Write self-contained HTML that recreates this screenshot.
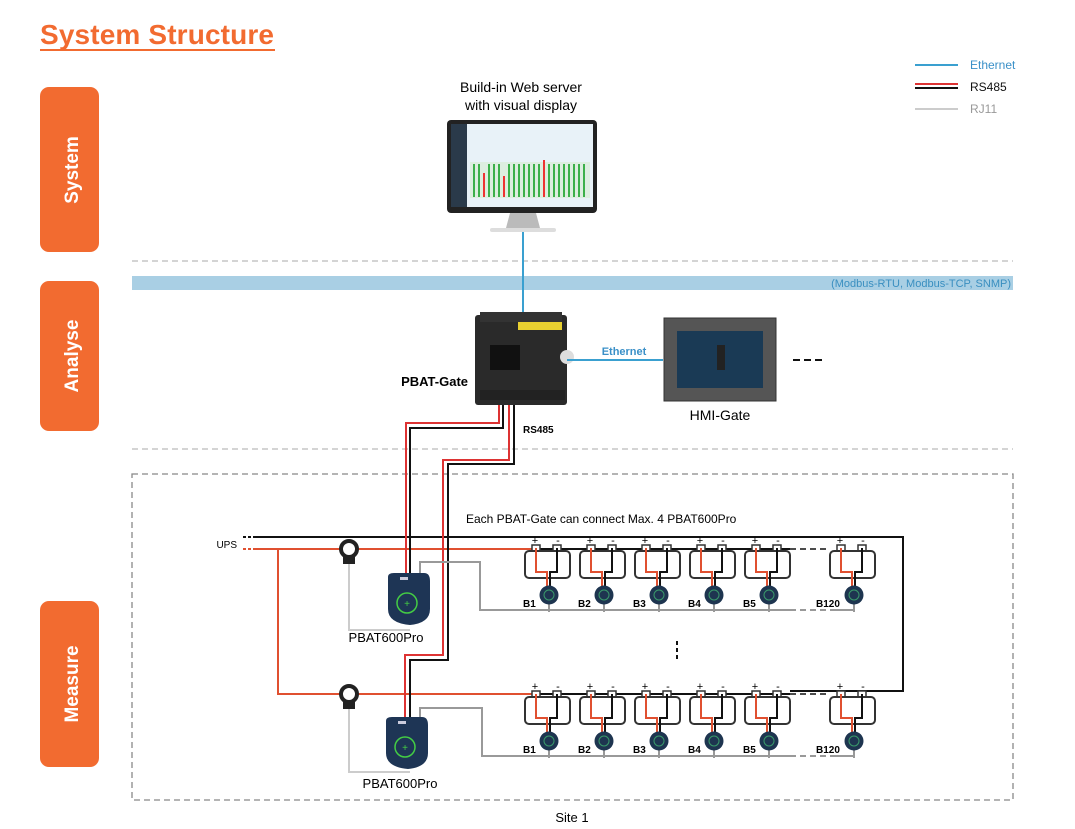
<!DOCTYPE html>
<html><head><meta charset="utf-8"><style>
html,body{margin:0;padding:0;background:#fff;}
svg{display:block;font-family:"Liberation Sans",Arial,sans-serif;}
</style></head><body>
<svg width="1075" height="829" viewBox="0 0 1075 829" xmlns="http://www.w3.org/2000/svg">
<defs>
<g id="bat">
  <rect x="7" y="-5" width="8" height="6" fill="#fff" stroke="#333" stroke-width="1.5"/>
  <rect x="28" y="-5" width="8" height="6" fill="#fff" stroke="#333" stroke-width="1.5"/>
  <rect x="0" y="1" width="45" height="27" rx="4" fill="#fff" stroke="#333" stroke-width="2"/>
  <polyline points="11,-2 11,22 22,22 22,40" fill="none" stroke="#e05030" stroke-width="2"/>
  <polyline points="32,-2 32,22 25,22 25,40" fill="none" stroke="#111" stroke-width="2"/>
  <line x1="24" y1="50" x2="24" y2="62" stroke="#999" stroke-width="2"/>
  <circle cx="24" cy="45" r="9.5" fill="#1e3550"/>
  <circle cx="24" cy="45" r="5" fill="none" stroke="#3a9a6a" stroke-width="1"/>
  <text x="10" y="-6" font-size="11" text-anchor="middle">+</text>
  <text x="33" y="-6" font-size="11" text-anchor="middle">-</text>
</g>
<g id="dev">
  <path d="M2,4 Q2,0 8,0 L38,0 Q44,0 44,8 L44,36 Q44,50 24,52 Q2,50 2,36 Z" fill="#1e3555"/>
  <rect x="14" y="4" width="8" height="3" fill="#ccd"/>
  <circle cx="21" cy="30" r="10" fill="none" stroke="#4c4" stroke-width="1.5"/>
  <text x="21" y="34" font-size="10" fill="#4c4" text-anchor="middle">+</text>
</g>
<g id="ct">
  <circle cx="0" cy="0" r="8" fill="#fff" stroke="#222" stroke-width="4"/>
  <rect x="-6" y="7" width="12" height="8" fill="#222"/>
</g>
</defs>

<text x="40" y="44" font-size="28" font-weight="bold" fill="#f26b30" textLength="234">System Structure</text>
<line x1="40" y1="50" x2="275" y2="50" stroke="#f26b30" stroke-width="2"/>

<!-- legend -->
<line x1="915" y1="65" x2="958" y2="65" stroke="#3aa0d0" stroke-width="2"/>
<text x="970" y="69" font-size="12" fill="#3a90c8">Ethernet</text>
<line x1="915" y1="84" x2="958" y2="84" stroke="#d33" stroke-width="2"/>
<line x1="915" y1="88" x2="958" y2="88" stroke="#111" stroke-width="2"/>
<text x="970" y="91" font-size="12" fill="#111">RS485</text>
<line x1="915" y1="109" x2="958" y2="109" stroke="#999" stroke-width="1"/>
<text x="970" y="113" font-size="12" fill="#999">RJ11</text>

<!-- tabs -->
<rect x="40" y="87" width="59" height="165" rx="9" fill="#f26b30"/>
<text transform="translate(78,170) rotate(-90)" font-size="19" font-weight="bold" fill="#fff" text-anchor="middle">System</text>
<rect x="40" y="281" width="59" height="150" rx="9" fill="#f26b30"/>
<text transform="translate(78,356) rotate(-90)" font-size="19" font-weight="bold" fill="#fff" text-anchor="middle">Analyse</text>
<rect x="40" y="601" width="59" height="166" rx="9" fill="#f26b30"/>
<text transform="translate(78,684) rotate(-90)" font-size="19" font-weight="bold" fill="#fff" text-anchor="middle">Measure</text>

<line x1="132" y1="261" x2="1013" y2="261" stroke="#aaa" stroke-dasharray="6,4"/>
<line x1="132" y1="449" x2="1013" y2="449" stroke="#aaa" stroke-dasharray="6,4"/>
<rect x="132" y="276" width="881" height="14" fill="#a9cfe4"/>
<text x="1011" y="287" font-size="11" fill="#3a8fc0" text-anchor="end">(Modbus-RTU, Modbus-TCP, SNMP)</text>

<!-- monitor -->
<text x="521" y="92" font-size="14" text-anchor="middle">Build-in Web server</text>
<text x="521" y="110" font-size="14" text-anchor="middle">with visual display</text>
<line x1="523" y1="228" x2="523" y2="315" stroke="#3aa0d0" stroke-width="2"/>
<rect x="447" y="120" width="150" height="93" rx="4" fill="#222"/>
<rect x="451" y="124" width="142" height="83" fill="#e8f2f8"/>
<rect x="451" y="124" width="16" height="83" fill="#2a3a4a"/>
<rect x="470" y="162" width="120" height="36" fill="#ddeee0"/>
<g fill="#3cb04a">
<rect x="473" y="164" width="2" height="33"/><rect x="478" y="164" width="2" height="33"/><rect x="488" y="164" width="2" height="33"/><rect x="493" y="164" width="2" height="33"/><rect x="498" y="164" width="2" height="33"/><rect x="508" y="164" width="2" height="33"/><rect x="513" y="164" width="2" height="33"/><rect x="518" y="164" width="2" height="33"/><rect x="523" y="164" width="2" height="33"/><rect x="528" y="164" width="2" height="33"/><rect x="533" y="164" width="2" height="33"/><rect x="538" y="164" width="2" height="33"/><rect x="548" y="164" width="2" height="33"/><rect x="553" y="164" width="2" height="33"/><rect x="558" y="164" width="2" height="33"/><rect x="563" y="164" width="2" height="33"/><rect x="568" y="164" width="2" height="33"/><rect x="573" y="164" width="2" height="33"/><rect x="578" y="164" width="2" height="33"/><rect x="583" y="164" width="2" height="33"/></g>
<g fill="#e33"><rect x="483" y="173" width="2" height="24"/><rect x="503" y="176" width="2" height="21"/><rect x="543" y="160" width="2" height="37"/></g>
<path d="M510,213 L536,213 L540,228 L506,228 Z" fill="#bbb"/>
<rect x="490" y="228" width="66" height="4" rx="2" fill="#ddd"/>

<!-- gate -->
<rect x="475" y="315" width="92" height="90" rx="3" fill="#2a2a2a"/>
<rect x="480" y="312" width="82" height="10" fill="#333"/>
<rect x="518" y="322" width="44" height="8" fill="#e8d030"/>
<rect x="490" y="345" width="30" height="25" fill="#111"/>
<circle cx="567" cy="357" r="7" fill="#ddd"/>
<rect x="480" y="390" width="85" height="10" fill="#222"/>
<line x1="567" y1="360" x2="663" y2="360" stroke="#3aa0d0" stroke-width="2"/>
<text x="624" y="355" font-size="11" font-weight="bold" fill="#3a90c8" text-anchor="middle">Ethernet</text>
<text x="468" y="386" font-size="13" font-weight="bold" text-anchor="end">PBAT-Gate</text>
<text x="523" y="433" font-size="10" font-weight="bold">RS485</text>

<!-- HMI -->
<rect x="664" y="318" width="112" height="83" fill="#555" stroke="#333"/>
<rect x="677" y="331" width="86" height="57" fill="#1a3a55"/>
<rect x="717" y="345" width="8" height="25" fill="#222"/>
<text x="720" y="420" font-size="14" text-anchor="middle">HMI-Gate</text>
<line x1="793" y1="360" x2="825" y2="360" stroke="#111" stroke-width="2" stroke-dasharray="7,4"/>

<!-- measure box -->
<rect x="132" y="474" width="881" height="326" fill="none" stroke="#888" stroke-width="1.3" stroke-dasharray="6,4"/>
<text x="466" y="523" font-size="12">Each PBAT-Gate can connect Max. 4 PBAT600Pro</text>
<text x="572" y="822" font-size="13" text-anchor="middle">Site 1</text>
<text x="237" y="548" font-size="10" text-anchor="end">UPS</text>
<line x1="243" y1="537" x2="255" y2="537" stroke="#111" stroke-width="2" stroke-dasharray="3,2"/>
<line x1="243" y1="549" x2="255" y2="549" stroke="#e05030" stroke-width="2" stroke-dasharray="3,2"/>

<!-- rails -->
<polyline points="255,537 903,537 903,691 790,691" fill="none" stroke="#111" stroke-width="2"/>
<line x1="255" y1="549" x2="535" y2="549" stroke="#e05030" stroke-width="2"/>
<polyline points="278,549 278,694 535,694" fill="none" stroke="#e05030" stroke-width="2"/>
<line x1="535" y1="549" x2="790" y2="549" stroke="#111" stroke-width="2"/>
<line x1="790" y1="549" x2="830" y2="549" stroke="#111" stroke-width="1.5" stroke-dasharray="6,4"/>
<line x1="535" y1="694" x2="790" y2="694" stroke="#111" stroke-width="2"/>
<line x1="790" y1="694" x2="830" y2="694" stroke="#111" stroke-width="1.5" stroke-dasharray="6,4"/>
<line x1="830" y1="691" x2="903" y2="691" stroke="#111" stroke-width="2"/>

<!-- RS485 wires -->
<polyline points="499,405 499,423 406,423 406,575" fill="none" stroke="#d33" stroke-width="2"/>
<polyline points="503,405 503,428 410,428 410,575" fill="none" stroke="#111" stroke-width="2"/>
<polyline points="509,405 509,460 443,460 443,655 405,655 405,717" fill="none" stroke="#d33" stroke-width="2"/>
<polyline points="514,405 514,464 448,464 448,660 410,660 410,717" fill="none" stroke="#111" stroke-width="2"/>

<!-- gray lines -->
<polyline points="349,560 349,630 410,630" fill="none" stroke="#ccc" stroke-width="2"/>
<polyline points="420,575 420,562 480,562 480,610 790,610" fill="none" stroke="#999" stroke-width="2"/>
<line x1="790" y1="610" x2="830" y2="610" stroke="#999" stroke-width="2" stroke-dasharray="6,4"/>
<line x1="830" y1="610" x2="854" y2="610" stroke="#999" stroke-width="2"/>
<polyline points="349,705 349,772 410,772" fill="none" stroke="#ccc" stroke-width="2"/>
<polyline points="420,717 420,708 482,708 482,756 790,756" fill="none" stroke="#999" stroke-width="2"/>
<line x1="790" y1="756" x2="830" y2="756" stroke="#999" stroke-width="2" stroke-dasharray="6,4"/>
<line x1="830" y1="756" x2="854" y2="756" stroke="#999" stroke-width="2"/>

<use href="#ct" x="349" y="549"/>
<use href="#ct" x="349" y="694"/>
<use href="#dev" x="386" y="573"/>
<use href="#dev" x="384" y="717"/>
<text x="386" y="642" font-size="13" text-anchor="middle">PBAT600Pro</text>
<text x="400" y="788" font-size="13" text-anchor="middle">PBAT600Pro</text>

<!-- batteries -->
<use href="#bat" x="525" y="550"/><use href="#bat" x="580" y="550"/><use href="#bat" x="635" y="550"/><use href="#bat" x="690" y="550"/><use href="#bat" x="745" y="550"/><use href="#bat" x="830" y="550"/>
<use href="#bat" x="525" y="696"/><use href="#bat" x="580" y="696"/><use href="#bat" x="635" y="696"/><use href="#bat" x="690" y="696"/><use href="#bat" x="745" y="696"/><use href="#bat" x="830" y="696"/>
<g font-size="10" font-weight="bold">
<text x="523" y="607">B1</text><text x="578" y="607">B2</text><text x="633" y="607">B3</text><text x="688" y="607">B4</text><text x="743" y="607">B5</text><text x="816" y="607">B120</text>
<text x="523" y="753">B1</text><text x="578" y="753">B2</text><text x="633" y="753">B3</text><text x="688" y="753">B4</text><text x="743" y="753">B5</text><text x="816" y="753">B120</text>
</g>
<line x1="677" y1="641" x2="677" y2="661" stroke="#111" stroke-width="2" stroke-dasharray="4,3"/>
</svg>
</body></html>
